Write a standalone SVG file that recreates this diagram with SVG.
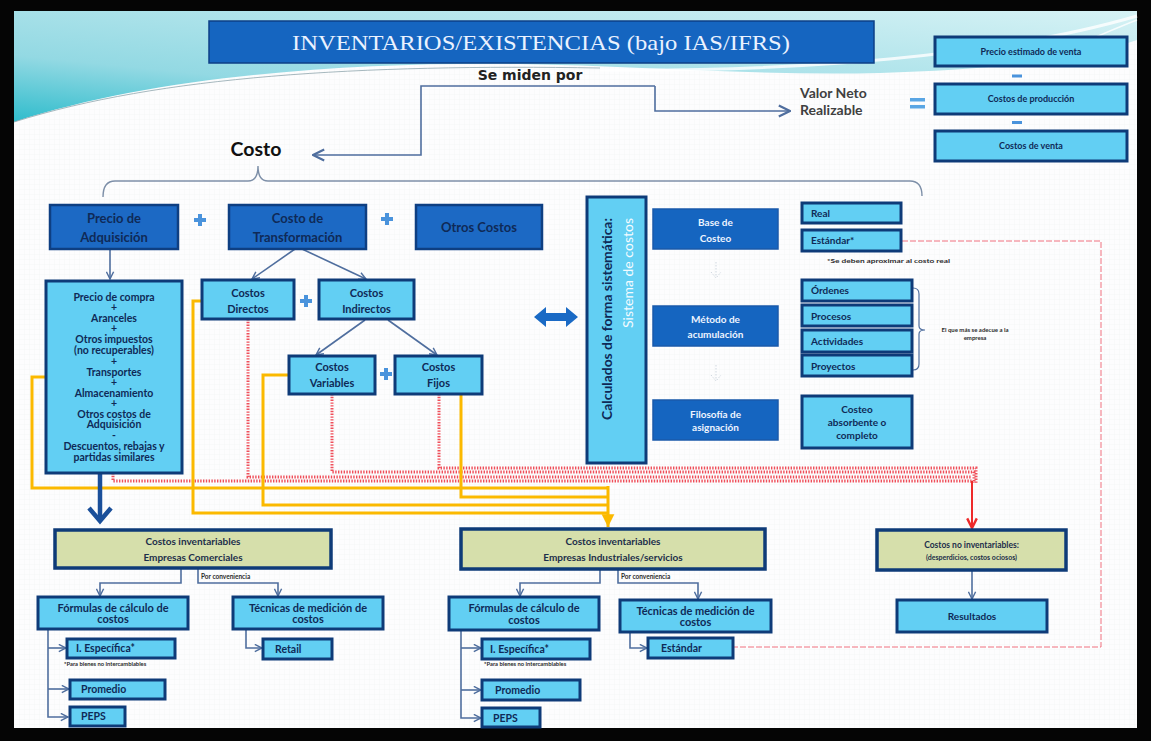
<svg xmlns="http://www.w3.org/2000/svg" width="1151" height="741" viewBox="0 0 1151 741">
<defs>
<style>
.dk{fill:#1c69c4;stroke:#0e3f82;stroke-width:2.5}
.dm{fill:#1565c0;stroke:#1a5aaa;stroke-width:1.5}
.lt{fill:#62cff3;stroke:#0e3b78;stroke-width:3}
.kh{fill:#d6dfab;stroke:#0e3b78;stroke-width:3.5}
.tx{font-family:Lato,"Liberation Sans",sans-serif;font-weight:700;fill:#0f2a57;text-anchor:middle}
.tl{text-anchor:start}
.tw{fill:#eef4ff;font-weight:700}
.cn{fill:none;stroke:#4f6e9e;stroke-width:1.6}
.yl{fill:none;stroke:#fbb900;stroke-width:3}
.rd{fill:none;stroke:#ef4f5a;stroke-width:3;stroke-dasharray:1.4 1.4}
.rt{fill:none;stroke:#f0707e;stroke-width:1;stroke-dasharray:6 2}
.pl{fill:#4a93dc}
.note{font-family:Lato,"Liberation Sans",sans-serif;font-weight:700;fill:#2b2b2b}
</style>
<linearGradient id="sea" x1="0" y1="1" x2="1" y2="0">
<stop offset="0" stop-color="#2fbccc"/>
<stop offset="0.3" stop-color="#93d9e3"/>
<stop offset="1" stop-color="#d6f2f5"/>
</linearGradient>
<pattern id="grid" width="5" height="5" patternUnits="userSpaceOnUse">
<path d="M5,0 V5 M0,5 H5" stroke="#eef1f4" stroke-width="0.6" fill="none"/>
</pattern>
<marker id="ah" viewBox="0 0 10 10" refX="9" refY="5" markerWidth="9" markerHeight="9" markerUnits="userSpaceOnUse" orient="auto">
<path d="M1,1 L9,5 L1,9" fill="none" stroke="#4f6e9e" stroke-width="1.6"/>
</marker>
<marker id="ahBig" viewBox="0 0 10 10" refX="9" refY="5" markerWidth="14" markerHeight="14" markerUnits="userSpaceOnUse" orient="auto">
<path d="M1,1 L9,5 L1,9" fill="none" stroke="#4f6e9e" stroke-width="1.6"/>
</marker>
<marker id="ahY" viewBox="0 0 10 10" refX="9" refY="5" markerWidth="16" markerHeight="16" markerUnits="userSpaceOnUse" orient="auto">
<path d="M1,1 L9,5 L1,9 Z" fill="#fbb900"/>
</marker>
<marker id="ahR" viewBox="0 0 10 10" refX="9" refY="5" markerWidth="12" markerHeight="12" markerUnits="userSpaceOnUse" orient="auto">
<path d="M1,1 L9,5 L1,9" fill="none" stroke="#ee2a2a" stroke-width="2"/>
</marker>
</defs>

<!-- frame and slide background -->
<rect x="0" y="0" width="1151" height="741" fill="#050505"/>
<rect x="14" y="11" width="1123" height="717" fill="#fdfdfe"/>
<rect x="14" y="11" width="1123" height="717" fill="url(#grid)"/>
<path d="M14,11 H1137 V40 C1080,60 990,70 880,73 C760,76 640,66 520,64 C360,62 160,74 14,122 Z" fill="url(#sea)"/>
<path d="M14,122 C160,76 360,64 600,68" fill="none" stroke="#8fa6ad" stroke-width="0.8"/>
<path d="M600,70 C800,72 1000,56 1137,16" fill="none" stroke="#ffffff" stroke-width="3" opacity="0.8"/>
<path d="M1040,60 C1080,45 1110,30 1137,20" fill="none" stroke="#ffffff" stroke-width="1.5" opacity="0.8"/>

<!-- title -->
<g id="title">
<rect x="209" y="21" width="665" height="42" fill="#1565c0" stroke="#0d3f86" stroke-width="1.5"/>
<text x="541" y="50" font-family="'Liberation Serif',serif" font-size="22" fill="#eaf2ff" text-anchor="middle" textLength="498" lengthAdjust="spacingAndGlyphs">INVENTARIOS/EXISTENCIAS (bajo IAS/IFRS)</text>
</g>

<g id="se-miden">
<text x="530" y="80" font-family="'DejaVu Sans',sans-serif" font-weight="700" font-size="14" fill="#222" text-anchor="middle">Se miden por</text>
</g>

<g id="costo">
<text x="256" y="156" class="tx" font-size="19.5" style="fill:#111">Costo</text>
</g>

<g id="vnr">
<text x="800" y="98" class="tx tl" font-size="14" style="fill:#404040">Valor Neto</text>
<text x="800" y="115" class="tx tl" font-size="14" style="fill:#404040">Realizable</text>
<rect x="910" y="98" width="15" height="3.5" fill="#5aa6e4"/>
<rect x="910" y="105" width="15" height="3.5" fill="#5aa6e4"/>
</g>

<g id="vnr-precio">
<rect class="lt" x="935" y="37" width="192" height="29"/>
<text class="tx" x="1031" y="54.5" font-size="9">Precio estimado de venta</text>
</g>
<rect x="1012" y="74.5" width="10" height="3" fill="#4a93dc"/>
<g id="vnr-produccion">
<rect class="lt" x="935" y="84" width="192" height="30"/>
<text class="tx" x="1031" y="102" font-size="9">Costos de producción</text>
</g>
<rect x="1012" y="121" width="10" height="3" fill="#4a93dc"/>
<g id="vnr-venta">
<rect class="lt" x="935" y="131" width="192" height="30"/>
<text class="tx" x="1031" y="149" font-size="9">Costos de venta</text>
</g>

<!-- connectors -->
<g id="connectors">
<path class="cn" d="M655,86 H421 V155 H313" marker-end="url(#ahBig)" stroke-width="2"/>
<path class="cn" d="M655,86 V111 H790" marker-end="url(#ahBig)" stroke-width="2"/>
<path d="M103,197 Q103,181 115,181 H248 Q258,181 258,166 Q258,181 268,181 H910 Q922,181 922,196" fill="none" stroke="#7d8fa8" stroke-width="1.4"/>

<path class="cn" d="M110,249 V279" marker-end="url(#ah)"/>
<path class="cn" d="M295,249 L252,279" marker-end="url(#ah)"/>
<path class="cn" d="M302,249 L366,279" marker-end="url(#ah)"/>
<path class="cn" d="M365,320 L316,355" marker-end="url(#ah)"/>
<path class="cn" d="M388,320 L437,355" marker-end="url(#ah)"/>

<!-- non-inventoriable cost routes -->
<path class="rd" d="M113,473 V481 H972 V483"/>
<path class="rd" d="M248,319 V477 H972"/>
<path class="rd" d="M332,394 V472 H974 V483"/>
<path class="rd" d="M439,394 V468 H976 V483"/>
<path d="M972,481 V528" fill="none" stroke="#ee2a2a" stroke-width="2" marker-end="url(#ahR)"/>

<!-- inventoriable cost routes -->
<path class="yl" d="M46,377 H32 V488 H608"/>
<path class="yl" d="M202,301 H193 V513 H608"/>
<path class="yl" d="M289,375 H263 V505 H608"/>
<path class="yl" d="M461,394 V497 H608"/>
<path class="yl" d="M608,486 V527" marker-end="url(#ahY)"/>

<path d="M100,474 V519" fill="none" stroke="#1a4f9a" stroke-width="4.5"/>
<path d="M89,508 L100,521 L111,508" fill="none" stroke="#1a4f9a" stroke-width="4.5"/>

<path class="rt" d="M902,241 H1101 V647 H734"/>

<path class="cn" d="M181,568 V583 H100 V596" marker-end="url(#ah)"/>
<path class="cn" d="M198,568 V583 H278 V596" marker-end="url(#ah)"/>
<path class="cn" d="M48,629 V717 H68" marker-end="url(#ah)"/>
<path class="cn" d="M48,648 H66" marker-end="url(#ah)"/>
<path class="cn" d="M48,689 H69" marker-end="url(#ah)"/>
<path class="cn" d="M246,629 V648 H262" marker-end="url(#ah)"/>

<path class="cn" d="M600,569 V583 H520 V596" marker-end="url(#ah)"/>
<path class="cn" d="M618,569 V583 H698 V599" marker-end="url(#ah)"/>
<path class="cn" d="M461,630 V718 H481" marker-end="url(#ah)"/>
<path class="cn" d="M461,648 H481" marker-end="url(#ah)"/>
<path class="cn" d="M461,690 H481" marker-end="url(#ah)"/>
<path class="cn" d="M630,632 V648 H647" marker-end="url(#ah)"/>

<path class="cn" d="M972,570 V599" marker-end="url(#ah)"/>

<path d="M534,317 L546,307 V313 H566 V307 L578,317 L566,327 V321 H546 V327 Z" fill="#1a6ac5"/>
<path d="M716,262 V277 M711,272 L716,278 L721,272" fill="none" stroke="#cfd7df" stroke-width="1" stroke-dasharray="1.5 1.5"/>
<path d="M716,365 V380 M711,375 L716,381 L721,375" fill="none" stroke="#cfd7df" stroke-width="1" stroke-dasharray="1.5 1.5"/>
<path d="M913,288 Q919,288 919,294 V326 Q919,330 925,330 Q919,330 919,334 V364 Q919,370 913,370" fill="none" stroke="#4f6e9e" stroke-width="1.2"/>
</g>

<!-- plus signs -->
<g id="plus-signs" class="pl">
<rect x="194" y="218" width="12" height="4"/><rect x="198" y="214" width="4" height="12"/>
<rect x="381" y="217" width="12" height="4"/><rect x="385" y="213" width="4" height="12"/>
<rect x="300" y="299" width="12" height="4"/><rect x="304" y="295" width="4" height="12"/>
<rect x="380" y="372" width="12" height="4"/><rect x="384" y="368" width="4" height="12"/>
</g>

<!-- cost components -->
<g id="precio-adquisicion">
<rect class="dk" x="50" y="205" width="128" height="44"/>
<text class="tx" x="114" y="222.5" font-size="13">Precio de</text>
<text class="tx" x="114" y="241.5" font-size="13">Adquisición</text>
</g>
<g id="costo-transformacion">
<rect class="dk" x="229" y="205" width="137" height="44"/>
<text class="tx" x="297.5" y="222.5" font-size="13">Costo de</text>
<text class="tx" x="297.5" y="241.5" font-size="13">Transformación</text>
</g>
<g id="otros-costos">
<rect class="dk" x="416" y="205" width="126" height="44"/>
<text class="tx" x="479" y="231.5" font-size="13">Otros Costos</text>
</g>

<g id="detalle-adquisicion">
<rect class="lt" x="46" y="281" width="136" height="192"/>
<g class="tx" font-size="10.5">
<text x="114" y="300.7">Precio de compra</text>
<text x="114" y="310.7">+</text>
<text x="114" y="321.7">Aranceles</text>
<text x="114" y="331.7">+</text>
<text x="114" y="342.7">Otros impuestos</text>
<text x="114" y="353.7">(no recuperables)</text>
<text x="114" y="364.7">+</text>
<text x="114" y="375.7">Transportes</text>
<text x="114" y="385.7">+</text>
<text x="114" y="396.7">Almacenamiento</text>
<text x="114" y="406.7">+</text>
<text x="114" y="417.7">Otros costos de</text>
<text x="114" y="427.7">Adquisición</text>
<text x="114" y="438.7">-</text>
<text x="114" y="449.7">Descuentos, rebajas y</text>
<text x="114" y="460.7">partidas similares</text>
</g>
</g>

<g id="costos-directos">
<rect class="lt" x="202" y="280" width="92" height="39"/>
<text class="tx" x="248" y="297" font-size="11">Costos</text>
<text class="tx" x="248" y="313" font-size="11">Directos</text>
</g>
<g id="costos-indirectos">
<rect class="lt" x="319" y="280" width="95" height="39"/>
<text class="tx" x="366.5" y="297" font-size="11">Costos</text>
<text class="tx" x="366.5" y="313" font-size="11">Indirectos</text>
</g>
<g id="costos-variables">
<rect class="lt" x="289" y="356" width="86" height="38"/>
<text class="tx" x="332" y="371" font-size="11">Costos</text>
<text class="tx" x="332" y="387" font-size="11">Variables</text>
</g>
<g id="costos-fijos">
<rect class="lt" x="395" y="356" width="87" height="38"/>
<text class="tx" x="438.5" y="371" font-size="11">Costos</text>
<text class="tx" x="438.5" y="387" font-size="11">Fijos</text>
</g>

<!-- cost system -->
<g id="sistema-costos">
<rect class="lt" x="587" y="197" width="59" height="266"/>
<text class="tx" transform="translate(612,218) rotate(-90)" font-size="13" style="text-anchor:end" textLength="202" lengthAdjust="spacingAndGlyphs">Calculados de forma sistemática:</text>
<text class="tx" transform="translate(633,218) rotate(-90)" font-size="12.5" style="text-anchor:end;fill:#f4fbff;font-weight:400" textLength="110" lengthAdjust="spacingAndGlyphs">Sistema de costos</text>
</g>

<g id="base-costeo">
<rect class="dm" x="653" y="209" width="125" height="40"/>
<text class="tx tw" x="715.5" y="226" font-size="10">Base de</text>
<text class="tx tw" x="715.5" y="242" font-size="10">Costeo</text>
</g>
<g id="metodo-acumulacion">
<rect class="dm" x="653" y="306" width="125" height="40"/>
<text class="tx tw" x="715.5" y="323" font-size="10">Método de</text>
<text class="tx tw" x="715.5" y="338" font-size="10">acumulación</text>
</g>
<g id="filosofia-asignacion">
<rect class="dm" x="653" y="400" width="125" height="40"/>
<text class="tx tw" x="715.5" y="418" font-size="10">Filosofía de</text>
<text class="tx tw" x="715.5" y="431" font-size="10">asignación</text>
</g>

<g id="real">
<rect class="lt" x="802" y="203" width="99" height="20"/>
<text class="tx tl" x="811" y="216.5" font-size="10">Real</text>
</g>
<g id="estandar">
<rect class="lt" x="802" y="230" width="99" height="21"/>
<text class="tx tl" x="811" y="244" font-size="10">Estándar*</text>
</g>
<text class="note" x="827" y="263" font-size="6" textLength="123" lengthAdjust="spacingAndGlyphs">*Se deben aproximar al costo real</text>
<g id="ordenes">
<rect class="lt" x="802" y="280" width="110" height="21"/>
<text class="tx tl" x="811" y="294" font-size="10">Órdenes</text>
</g>
<g id="procesos">
<rect class="lt" x="802" y="305" width="110" height="21"/>
<text class="tx tl" x="811" y="319.5" font-size="10">Procesos</text>
</g>
<g id="actividades">
<rect class="lt" x="802" y="330" width="110" height="22"/>
<text class="tx tl" x="811" y="344.5" font-size="10">Actividades</text>
</g>
<g id="proyectos">
<rect class="lt" x="802" y="355" width="110" height="21"/>
<text class="tx tl" x="811" y="369.5" font-size="10">Proyectos</text>
</g>
<g id="nota-empresa" class="note" font-size="6" text-anchor="middle">
<text x="975" y="332">El que más se adecue a la</text>
<text x="975" y="340">empresa</text>
</g>
<g id="costeo-absorbente">
<rect class="lt" x="802" y="396" width="110" height="52"/>
<text class="tx" x="857" y="413" font-size="10">Costeo</text>
<text class="tx" x="857" y="426" font-size="10">absorbente o</text>
<text class="tx" x="857" y="439" font-size="10">completo</text>
</g>

<!-- commercial companies -->
<g id="inv-comerciales">
<rect class="kh" x="55" y="530" width="276" height="38"/>
<text class="tx" x="193" y="544.5" font-size="10" style="fill:#1c2e4a">Costos inventariables</text>
<text class="tx" x="193" y="560.5" font-size="10" style="fill:#1c2e4a">Empresas Comerciales</text>
</g>
<text class="note" x="201" y="579" font-size="6.5" font-weight="400" fill="#444">Por conveniencia</text>
<g id="formulas-1">
<rect class="lt" x="38" y="597" width="150" height="32"/>
<text class="tx" x="113" y="611.5" font-size="11">Fórmulas de cálculo de</text>
<text class="tx" x="113" y="623" font-size="11">costos</text>
</g>
<g id="tecnicas-1">
<rect class="lt" x="233" y="597" width="150" height="32"/>
<text class="tx" x="308" y="611.5" font-size="11">Técnicas de medición de</text>
<text class="tx" x="308" y="623" font-size="11">costos</text>
</g>
<g id="especifica-1">
<rect class="lt" x="67" y="639" width="108" height="19"/>
<text class="tx tl" x="76" y="652" font-size="10.5">I. Específica*</text>
</g>
<text class="note" x="64" y="666" font-size="5.8" font-weight="400" fill="#444">*Para bienes no intercambiables</text>
<g id="promedio-1">
<rect class="lt" x="70" y="680" width="95" height="19"/>
<text class="tx tl" x="81" y="693" font-size="10.5">Promedio</text>
</g>
<g id="peps-1">
<rect class="lt" x="70" y="707" width="55" height="19"/>
<text class="tx tl" x="81" y="720" font-size="10.5">PEPS</text>
</g>
<g id="retail">
<rect class="lt" x="263" y="639" width="69" height="20"/>
<text class="tx tl" x="275" y="652.5" font-size="10.5">Retail</text>
</g>

<!-- industrial / service companies -->
<g id="inv-industriales">
<rect class="kh" x="461" y="529" width="304" height="40"/>
<text class="tx" x="613" y="544.5" font-size="10" style="fill:#1c2e4a">Costos inventariables</text>
<text class="tx" x="613" y="560.5" font-size="10" style="fill:#1c2e4a">Empresas Industriales/servicios</text>
</g>
<text class="note" x="621" y="579" font-size="6.5" font-weight="400" fill="#444">Por conveniencia</text>
<g id="formulas-2">
<rect class="lt" x="449" y="597" width="150" height="33"/>
<text class="tx" x="524" y="612" font-size="11">Fórmulas de cálculo de</text>
<text class="tx" x="524" y="623.5" font-size="11">costos</text>
</g>
<g id="tecnicas-2">
<rect class="lt" x="620" y="600" width="151" height="32"/>
<text class="tx" x="695.5" y="614.5" font-size="11">Técnicas de medición de</text>
<text class="tx" x="695.5" y="626" font-size="11">costos</text>
</g>
<g id="especifica-2">
<rect class="lt" x="482" y="639" width="108" height="20"/>
<text class="tx tl" x="490" y="652.5" font-size="10.5">I. Específica*</text>
</g>
<text class="note" x="484" y="666" font-size="5.8" font-weight="400" fill="#444">*Para bienes no intercambiables</text>
<g id="promedio-2">
<rect class="lt" x="482" y="680" width="98" height="20"/>
<text class="tx tl" x="495" y="694" font-size="10.5">Promedio</text>
</g>
<g id="peps-2">
<rect class="lt" x="482" y="708" width="58" height="19"/>
<text class="tx tl" x="493" y="721.5" font-size="10.5">PEPS</text>
</g>
<g id="estandar-2">
<rect class="lt" x="648" y="638" width="85" height="20"/>
<text class="tx tl" x="661" y="652" font-size="10.5">Estándar</text>
</g>

<!-- non-inventoriable costs -->
<g id="no-inventariables">
<rect class="kh" x="877" y="530" width="189" height="40"/>
<text class="tx" x="971.5" y="548" font-size="8.5" style="fill:#1c2e4a">Costos no inventariables:</text>
<text class="tx" x="971.5" y="560" font-size="7" style="fill:#1c2e4a">(desperdicios, costos ociosos)</text>
</g>
<g id="resultados">
<rect class="lt" x="897" y="600" width="150" height="32"/>
<text class="tx" x="972" y="619.5" font-size="10">Resultados</text>
</g>
</svg>
